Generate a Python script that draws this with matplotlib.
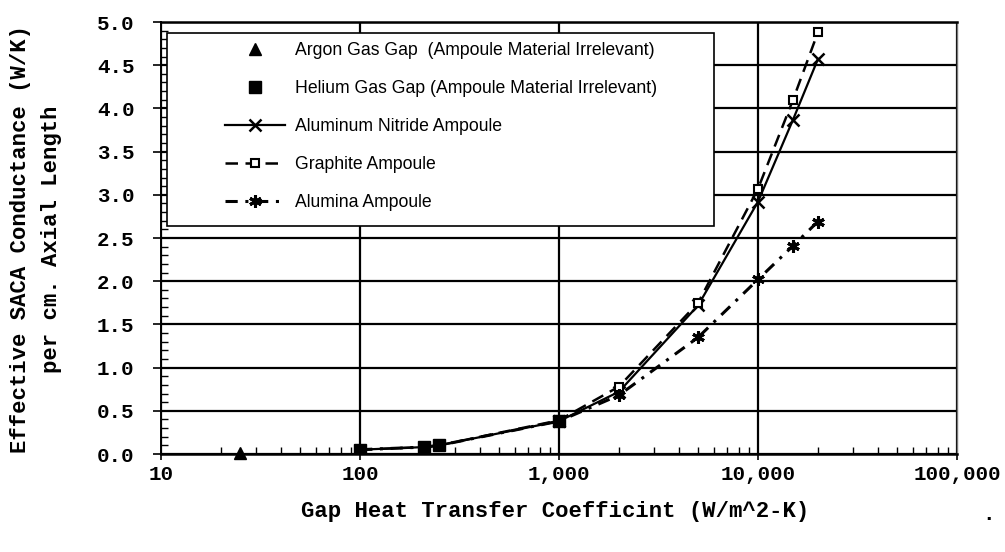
import matplotlib
matplotlib.use("Agg")
import matplotlib.pyplot as plt
from matplotlib.patches import Rectangle
from matplotlib.ticker import FixedLocator, MultipleLocator, LogLocator, NullFormatter

# data
argon_x = [25]
argon_y = [0.01]
helium_x = [100, 210, 250, 1000]
helium_y = [0.05, 0.08, 0.10, 0.38]

ampoule_x = [100, 210, 250, 1000, 2000, 5000, 10000, 15000, 20000]
aln_y = [0.05, 0.08, 0.10, 0.38, 0.72, 1.72, 2.92, 3.87, 4.57]
graphite_y = [0.05, 0.08, 0.10, 0.39, 0.78, 1.75, 3.07, 4.10, 4.88]
alumina_y = [0.05, 0.08, 0.10, 0.38, 0.68, 1.35, 2.02, 2.41, 2.69]

x_ticks = [10, 100, 1000, 10000, 100000]
x_ticklabels = ["10", "100", "1,000", "10,000", "100,000"]
y_ticks = [0.0, 0.5, 1.0, 1.5, 2.0, 2.5, 3.0, 3.5, 4.0, 4.5, 5.0]

labels = ["Argon Gas Gap  (Ampoule Material Irrelevant)",
          "Helium Gas Gap (Ampoule Material Irrelevant)",
          "Aluminum Nitride Ampoule",
          "Graphite Ampoule",
          "Alumina Ampoule"]

mono = "Liberation Mono"
sans = "Liberation Sans"

W, H = 1005, 552
fig = plt.figure(figsize=(W / 100, H / 100), dpi=100)
ax = fig.add_axes([161 / W, 1 - 454 / H, 796 / W, 432 / H])

ax.set_xscale("log")
ax.set_xlim(10, 100000)
ax.set_ylim(0, 5.0)

# gridlines
ax.grid(True, which="major", color="black", linewidth=1.6)
ax.set_axisbelow(True)

l_aln, = ax.plot(ampoule_x, aln_y, color="black", lw=1.6, marker="x", ms=8, mew=1.8,
                 markevery=list(range(3, len(ampoule_x))))
l_gra, = ax.plot(ampoule_x, graphite_y, color="black", lw=1.8, ls=(0, (5, 3)), marker="s", ms=6,
                 mfc="white", mew=1.5, markevery=list(range(3, len(ampoule_x))))
l_alu, = ax.plot(ampoule_x, alumina_y, color="black", lw=2.2, ls=(0, (4, 2.5, 1, 2.5)),
                 marker=(6, 2, 0), ms=9, mew=2.2, markevery=list(range(3, len(ampoule_x))))
l_he, = ax.plot(helium_x, helium_y, ls="none", marker="s", ms=9, color="black")
l_ar, = ax.plot(argon_x, argon_y, ls="none", marker="^", ms=8, color="black", clip_on=False)

ax.xaxis.set_major_locator(FixedLocator(x_ticks))
ax.set_xticklabels(x_ticklabels)
ax.xaxis.set_minor_locator(LogLocator(base=10, subs=range(2, 10)))
ax.xaxis.set_minor_formatter(NullFormatter())
ax.set_yticks(y_ticks)
ax.set_yticklabels([f"{v:.1f}" for v in y_ticks])
ax.yaxis.set_minor_locator(MultipleLocator(0.1))

ax.tick_params(axis="x", which="major", direction="out", length=4, width=1.2, pad=4)
ax.tick_params(axis="x", which="minor", direction="in", length=5, width=1)
ax.tick_params(axis="y", which="major", direction="out", length=6, width=1.2, pad=13)
ax.tick_params(axis="y", which="minor", direction="in", length=5, width=1)
for lab in ax.get_xticklabels() + ax.get_yticklabels():
    lab.set_fontfamily(mono)
    lab.set_fontweight("bold")
    lab.set_fontsize(15)

ax.spines["left"].set_linewidth(1.4)
ax.spines["bottom"].set_linewidth(1.8)
ax.spines["top"].set_linewidth(1.8)
ax.spines["right"].set_linewidth(1.0)
ax.spines["right"].set_color("#777777")

# legend with its own frame
fig.patches.append(Rectangle((167 / W, 1 - 226 / H), 547 / W, 193 / H, transform=fig.transFigure,
                             facecolor="white", edgecolor="black", lw=1.2, zorder=3))
leg = fig.legend([l_ar, l_he, l_aln, l_gra, l_alu], labels, loc="upper left",
                 bbox_to_anchor=(225 / W, 1 - 42 / H), frameon=False, borderpad=0,
                 borderaxespad=0, handlelength=3.4, handletextpad=0.55, labelspacing=1.19,
                 prop={"family": sans, "size": 12.7})
leg.set_zorder(4)

fig.text(21 / W, 1 - 239 / H, "Effective SACA Conductance (W/K)", rotation=90, ha="center",
         va="center", family=mono, weight="bold", fontsize=16)
fig.text(52 / W, 1 - 239 / H, "per cm. Axial Length", rotation=90, ha="center",
         va="center", family=mono, weight="bold", fontsize=16)
fig.text(555 / W, 1 - 512 / H, "Gap Heat Transfer Coefficint (W/m^2-K)", ha="center",
         va="center", family=mono, weight="bold", fontsize=16)
fig.text(988 / W, 1 - 514 / H, ".", ha="center", va="center", family=mono, weight="bold",
         fontsize=15)

fig.savefig("out.png", dpi=100)
